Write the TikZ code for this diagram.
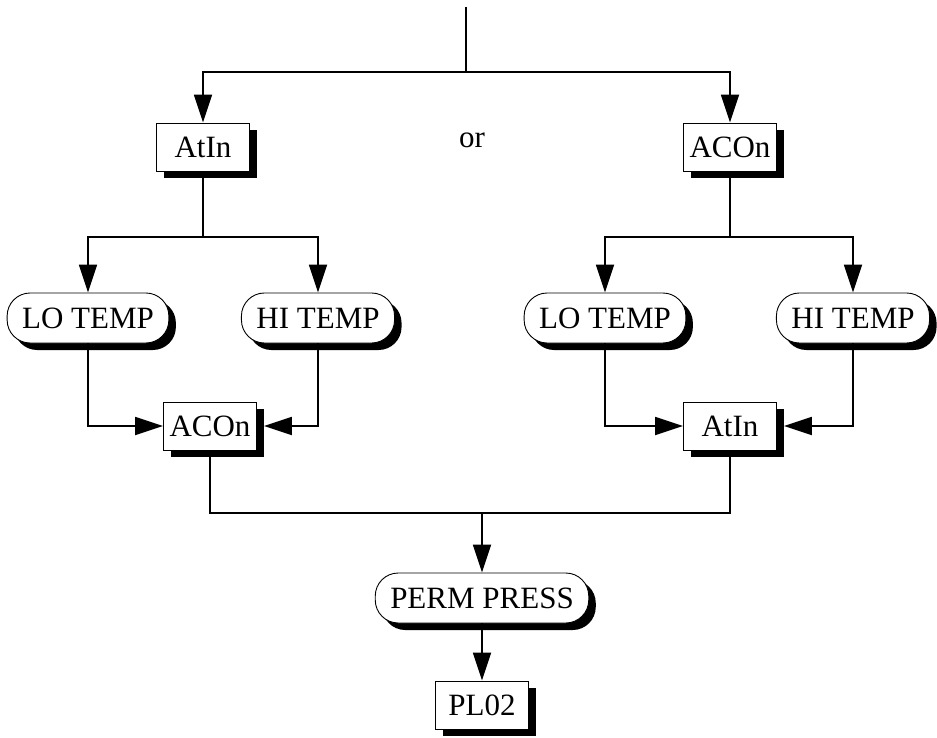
\documentclass[tikz,border=0pt]{standalone}
\usepackage{fontspec}
\setmainfont{Liberation Serif}
\usepackage{tikz}
\usetikzlibrary{arrows,arrows.meta,shadows,positioning}

\begin{document}
\begin{tikzpicture}[x=1pt,y=-1pt,
    every node/.style={font=\fontsize{31}{37}\selectfont},
    stepbox/.style={draw, fill=white, line width=0.9pt, minimum width=93pt,
        minimum height=48pt, inner sep=0pt,
        drop shadow={shadow xshift=7pt, shadow yshift=-7pt, fill=black, opacity=1}},
    pill/.style={draw, fill=white, line width=0.9pt, rounded corners=23pt,
        minimum height=50pt, inner xsep=15pt, inner ysep=0pt,
        drop shadow={shadow xshift=7pt, shadow yshift=-7pt, fill=black, opacity=1}},
    wire/.style={line width=1.8pt},
    flow/.style={wire, -{Triangle[length=28pt,width=18pt]}}]
                    \useasboundingbox (0,0) rectangle (937,738);
                    % upper choice
                    \coordinate (topin) at (466,7);
                    \coordinate (fork) at (466,72);
                    \node [stepbox] (atinA) at (203,147) {AtIn};
                    \node [stepbox] (aconA) at (730,147) {ACOn};
                    \node (or) at (472,140) {or};
                    \draw [wire] (topin) -- (fork);
                    \draw [flow] (fork) -| (atinA);
                    \draw [flow] (fork) -| (aconA);
                    % left branch
                    \coordinate (forkA) at (203,237);
                    \node [pill] (loA) at (88,318) {LO TEMP};
                    \node [pill] (hiA) at (318,318) {HI TEMP};
                    \node [stepbox] (aconB) at (210,426) {ACOn};
                    \draw [wire] (atinA) -- (forkA);
                    \draw [flow] (forkA) -| (loA);
                    \draw [flow] (forkA) -| (hiA);
                    \draw [flow] (loA) |- (aconB);
                    \draw [flow, shorten >=7pt] (hiA) |- (aconB);
                    % right branch
                    \coordinate (forkB) at (730,237);
                    \node [pill] (loB) at (605,318) {LO TEMP};
                    \node [pill] (hiB) at (853,318) {HI TEMP};
                    \node [stepbox] (atinB) at (730,426) {AtIn};
                    \draw [wire] (aconA) -- (forkB);
                    \draw [flow] (forkB) -| (loB);
                    \draw [flow] (forkB) -| (hiB);
                    \draw [flow] (loB) |- (atinB);
                    \draw [flow, shorten >=7pt] (hiB) |- (atinB);
                    % merge
                    \coordinate (join) at (482,513);
                    \node [pill] (perm) at (482,598) {PERM PRESS};
                    \node [stepbox] (pl) at (482,705) {PL02};
                    \draw [wire] (aconB) |- (join);
                    \draw [wire] (atinB) |- (join);
                    \draw [flow] (join) -- (perm);
                    \draw [flow] (perm) -- (pl);
\end{tikzpicture}
\end{document}
